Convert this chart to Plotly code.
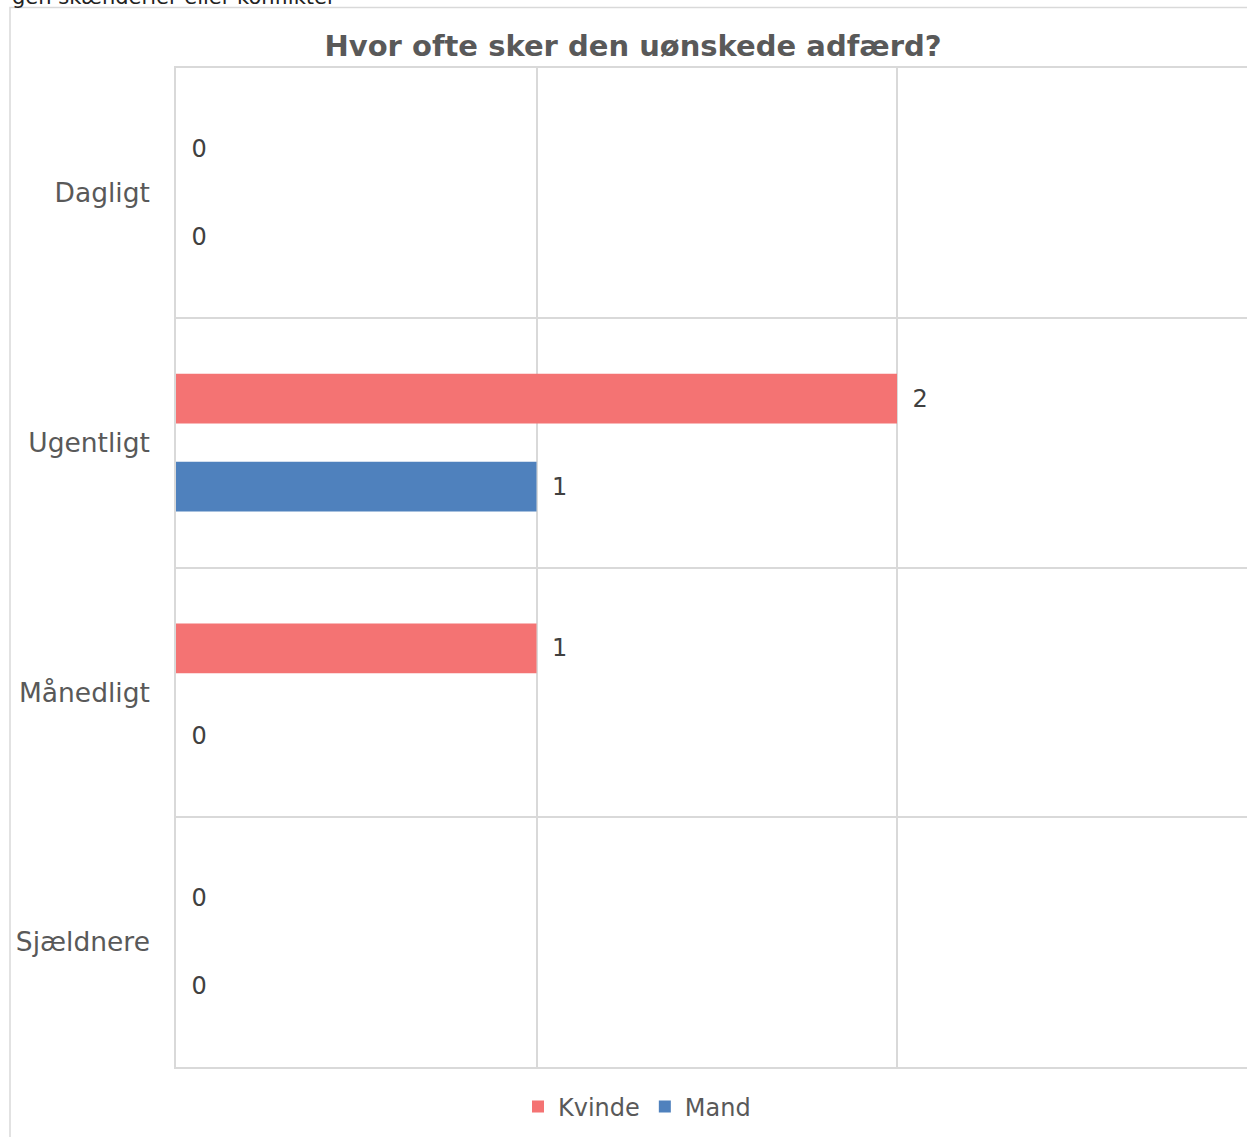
import plotly.graph_objects as go

categories = ["Dagligt", "Ugentligt", "Månedligt", "Sjældnere"]
kvinde = [0, 2, 1, 0]
mand = [0, 1, 0, 0]
series_names = ["Kvinde", "Mand"]
title_text = "Hvor ofte sker den uønskede adfærd?"
top_text = "gen skænderier eller konflikter"

W, H = 1247, 1137
L, R, T, B = 176, 0, 68, 70
pw = W - L - R
ph = H - T - B
unit = 360.5

font_family = "DejaVu Sans"
grid = "#d9d9d9"

fig = go.Figure()
for name, vals, col in [(series_names[0], kvinde, "#F47373"), (series_names[1], mand, "#4F81BD")]:
    fig.add_trace(go.Bar(
        name=name, x=vals, y=categories, orientation="h",
        marker=dict(color=col, line=dict(width=0)),
        text=vals, texttemplate="\u00a0\u2009%{x}", textposition="outside",
        textfont=dict(family=font_family, size=24, color="#404040"),
        cliponaxis=False, hoverinfo="skip",
    ))

def px2py(p):
    return (H - B - p) / ph

def px2px(p):
    return (p - L) / pw

fig.update_layout(
    width=W, height=H,
    margin=dict(l=L, r=R, t=T, b=B, pad=0),
    paper_bgcolor="white", plot_bgcolor="white",
    barmode="group", bargap=0.2953, bargroupgap=0.432,
    font=dict(family=font_family, color="#595959"),
    title=dict(text="<b>" + title_text + "</b>", x=633 / W, xanchor="center",
               y=1 - 46 / H, yanchor="middle",
               font=dict(family=font_family, size=29, color="#595959")),
    xaxis=dict(range=[0, pw / unit], dtick=1, tick0=0, showticklabels=False,
               showgrid=True, gridcolor=grid, gridwidth=1.5, zeroline=False,
               showline=True, mirror=True, linecolor=grid, linewidth=1.5, ticks=""),
    yaxis=dict(type="category", categoryorder="array", categoryarray=categories,
               autorange="reversed", tickson="boundaries", showgrid=True,
               gridcolor=grid, gridwidth=1.5, showline=True, linecolor=grid,
               linewidth=1.5, ticks="", ticklabelstandoff=19,
               tickfont=dict(family=font_family, size=26.5, color="#595959")),
    legend=dict(orientation="h", x=px2px(637), xanchor="center",
                y=px2py(1107), yanchor="middle", traceorder="normal",
                font=dict(family=font_family, size=24, color="#595959"),
                itemwidth=30, bgcolor="rgba(0,0,0,0)"),
    showlegend=True,
    shapes=[dict(type="rect", xref="paper", yref="paper",
                 x0=px2px(10), x1=px2px(W + 20), y0=px2py(H + 20), y1=px2py(7.5),
                 line=dict(color=grid, width=1.5), fillcolor="rgba(0,0,0,0)",
                 layer="below")],
    annotations=[dict(text=top_text, xref="paper", yref="paper",
                      x=px2px(10), xanchor="left", y=px2py(11), yanchor="bottom",
                      showarrow=False,
                      font=dict(family=font_family, size=21, color="#222222"))],
)

fig.write_html("out.html", config={"displayModeBar": False},
               post_script="document.body.style.margin='0';document.body.style.overflow='hidden';")
